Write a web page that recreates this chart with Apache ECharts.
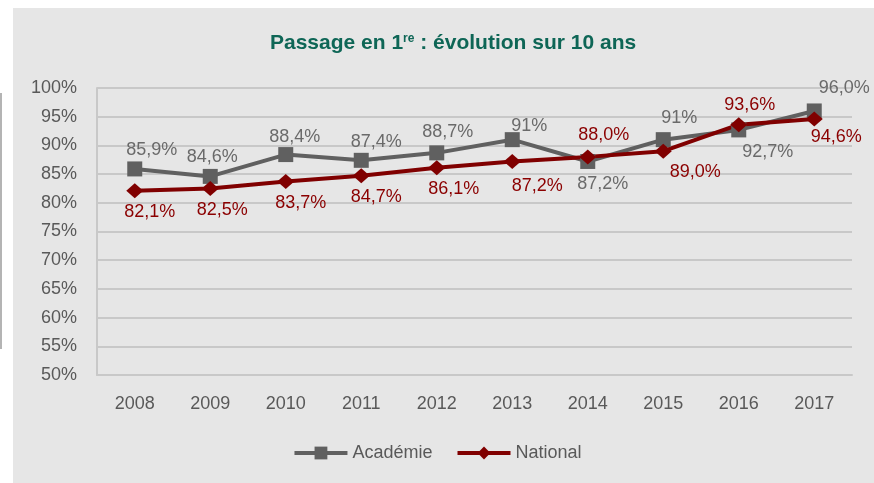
<!DOCTYPE html>
<html>
<head>
<meta charset="utf-8">
<script src="https://cdn.jsdelivr.net/npm/echarts@6/dist/echarts.min.js"></script>
<style>
    html, body { margin: 0; padding: 0; background: #fff; }
    #chart { width: 874px; height: 483px; }
</style>
</head>
<body>
<div id="chart"></div>
<script>
// données
var annees = ['2008', '2009', '2010', '2011', '2012', '2013', '2014', '2015', '2016', '2017'];
var academie = [85.9, 84.6, 88.4, 87.4, 88.7, 91, 87.2, 91, 92.7, 96.0];
var national = [82.1, 82.5, 83.7, 84.7, 86.1, 87.2, 88.0, 89.0, 93.6, 94.6];
var academieTextes = ['85,9%', '84,6%', '88,4%', '87,4%', '88,7%', '91%', '87,2%', '91%', '92,7%', '96,0%'];
var nationalTextes = ['82,1%', '82,5%', '83,7%', '84,7%', '86,1%', '87,2%', '88,0%', '89,0%', '93,6%', '94,6%'];

// placement des étiquettes (décalage par rapport au point)
var decalAcad = [[17, -19], [2, -19], [9, -18], [15, -18], [11, -21], [17, -14], [15, 23], [16, -22], [29, 22], [30, -23]];
var decalNat = [[15, 21], [12, 22], [15, 21], [15, 21], [17, 21], [25, 25], [16, -22], [32, 21], [11, -20], [22, 18]];

function points(valeurs, textes, decal) {
    return valeurs.map(function(v, i) {
        return {
            value: v,
            label: { offset: decal[i], formatter: textes[i] }
        };
    });
}

var police = '"Liberation Sans", Arial, sans-serif';

var myChart = echarts.init(document.getElementById('chart'));
myChart.setOption({
    animation: false,
    textStyle: { fontFamily: police },
    graphic: [
        { type: 'rect', z: -100, shape: { x: 13, y: 8, width: 861, height: 475 }, style: { fill: '#e6e6e6' } },
        { type: 'rect', z: -100, shape: { x: 0, y: 93, width: 2, height: 256 }, style: { fill: '#b4b4b4' } }
    ],
    title: {
        text: 'Passage en 1{sup|re} : évolution sur 10 ans',
        left: 265,
        top: 28,
        textStyle: {
            fontFamily: police,
            fontSize: 21,
            fontWeight: 'bold',
            color: '#0e6656',
            rich: {
                sup: { fontFamily: police, fontSize: 12, fontWeight: 'bold', color: '#0e6656', verticalAlign: 'top', padding: [0, 0, 9, 0] }
            }
        }
    },
    legend: {
        bottom: 16,
        left: 'center',
        itemWidth: 53,
        itemHeight: 16,
        itemGap: 23,
        lineStyle: { width: 4 },
        textStyle: { fontSize: 18, color: '#595959', fontFamily: police },
        data: ['Académie', 'National']
    },
    grid: { left: 97, right: 22, top: 88, bottom: 108 },
    xAxis: {
        type: 'category',
        data: annees,
        axisTick: { show: false },
        axisLine: { lineStyle: { color: '#c8c8c8', width: 2 } },
        axisLabel: { margin: 20, fontSize: 18, color: '#595959' }
    },
    yAxis: {
        type: 'value',
        min: 50,
        max: 100,
        interval: 5,
        axisLine: { show: true, lineStyle: { color: '#c8c8c8', width: 2 } },
        axisLabel: { margin: 20, fontSize: 18, color: '#595959', formatter: '{value}%' },
        splitLine: { lineStyle: { color: '#c8c8c8', width: 2 } }
    },
    series: [{
        name: 'Académie',
        type: 'line',
        data: points(academie, academieTextes, decalAcad),
        symbol: 'rect',
        symbolSize: 15,
        itemStyle: { color: '#606060' },
        lineStyle: { color: '#606060', width: 4 },
        label: { show: true, position: 'inside', fontSize: 18, color: '#6a6a6a', fontFamily: police }
    }, {
        name: 'National',
        type: 'line',
        data: points(national, nationalTextes, decalNat),
        symbol: 'diamond',
        symbolSize: [17, 15],
        itemStyle: { color: '#800000' },
        lineStyle: { color: '#800000', width: 4 },
        label: { show: true, position: 'inside', fontSize: 18, color: '#8b0000', fontFamily: police }
    }]
});
</script>
</body>
</html>
